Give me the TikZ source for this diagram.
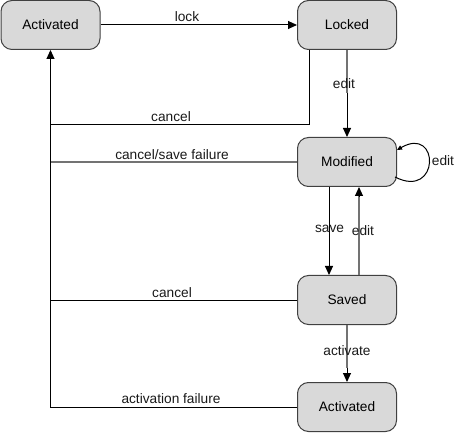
\documentclass[tikz,border=0pt]{standalone}
\usepackage{fontspec}
\setmainfont{Liberation Sans}
\usetikzlibrary{arrows.meta,calc}
\begin{document}
\begin{tikzpicture}[x=1pt,y=-1pt,
  state/.style={draw=black!75,fill=black!15,rounded corners=11pt,minimum width=99pt,minimum height=49pt,line width=1pt,inner sep=0pt,font=\fontsize{13.7}{15}\selectfont},
  lbl/.style={font=\fontsize{13.7}{15}\selectfont,inner sep=0pt,text=black!90},
  conn/.style={draw=black,line width=1pt},
  grayconn/.style={draw=black!55,line width=1.4pt},
  arr/.style={-{Triangle[length=9pt,width=8pt]}},
  smallarr/.style={-{Triangle[length=5pt,width=4.5pt]}}]
\useasboundingbox (0,0) rectangle (463,446);
\node[state] (A1) at (50.5,25) {Activated};
\node[state] (L) at (347,25) {Locked};
\node[state] (M) at (347,162) {Modified};
\node[state] (S) at (347,300) {Saved};
\node[state] (A2) at (347,407) {Activated};
\coordinate (J) at (50.5,407);
\coordinate (Lc) at (309,50);
\coordinate (Lc2) at (309,125);
% lock
\draw[conn,arr] (A1.east) -- (L.west);
\node[lbl] (tlock) at (187,17) {lock};
% left trunk
\draw[conn,arr] (A2.west) -- (J) -- (A1.south);
\node[lbl] (tactfail) at (171,399) {activation failure};
% cancel from Locked
\draw[conn] (Lc) -- (Lc2) -- (Lc2 -| A1.south);
\node[lbl] (tcancel1) at (171,117) {cancel};
% edit Locked -> Modified
\draw[grayconn] (L.south) -- ($(L.south)!0.5!(M.north)$);
\draw[conn,arr] ($(L.south)!0.5!(M.north)$) -- (M.north);
\node[lbl] (tedit1) at (344,84) {edit};
% cancel/save failure
\draw[grayconn] (M.west) -- (M.west -| A1.south);
\node[lbl] (tcsf) at (172,155) {cancel/save failure};
% self loop
\draw[conn,smallarr] ($(M.east)+(-2,15)$) .. controls ($(M.east)+(43,38)$) and ($(M.east)+(43,-37)$) .. ($(M.east)+(0,-12)$);
\node[lbl] (tedit2) at (443,161) {edit};
% save
\draw[conn,arr] ($(M.south)+(-18,0)$) -- ($(S.north)+(-18,0)$);
\node[lbl] (tsave) at (329.5,229) {save};
% edit Saved -> Modified
\draw[grayconn] ($(S.north)+(12,0)$) -- ($(M.south)+(12,9)$);
\draw[conn,arr] ($(M.south)+(12,9)$) -- ($(M.south)+(12,0)$);
\node[lbl] (tedit3) at (363,231) {edit};
% cancel from Saved
\draw[conn] (S.west) -- (S.west -| A1.south);
\node[lbl] (tcancel2) at (172,293) {cancel};
% activate
\draw[grayconn] (S.south) -- ($(S.south)!0.75!(A2.north)$);
\draw[conn,arr] ($(S.south)!0.75!(A2.north)$) -- (A2.north);
\node[lbl] (tact) at (347,351) {activate};
% activation failure
\draw[conn] (A2.west) -- (J);
\end{tikzpicture}
\end{document}
